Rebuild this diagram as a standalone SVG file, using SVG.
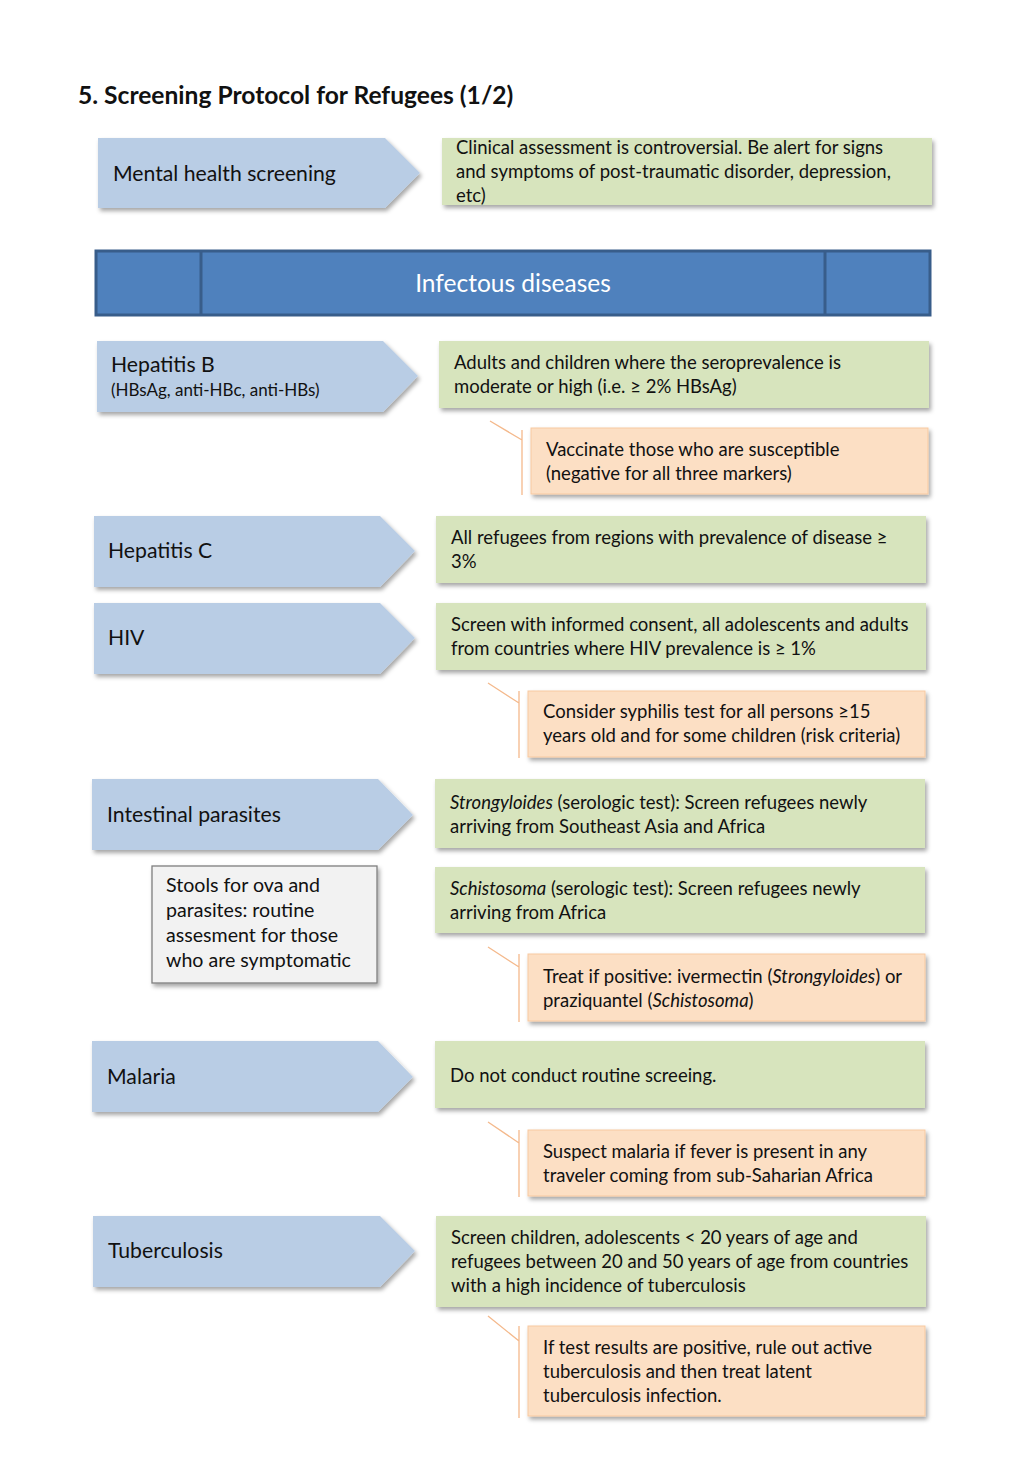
<svg xmlns="http://www.w3.org/2000/svg" width="1024" height="1479" viewBox="0 0 1024 1479">
<defs>
<filter id="sh" x="-5%" y="-10%" width="112%" height="130%">
<feDropShadow dx="2" dy="3" stdDeviation="2" flood-color="#000" flood-opacity="0.35"/>
</filter>
<style>
text{font-family:Lato,"Open Sans","Liberation Sans",sans-serif;fill:#111;}
.t{font-size:18.5px;}
.a{font-size:21.2px;}
.arrow{fill:#b9cde5;filter:url(#sh);}
.green{fill:#d7e4bd;filter:url(#sh);}
.orange{fill:#fcdfc4;stroke:#f8c9a0;stroke-width:1;filter:url(#sh);}
.grey{fill:#f2f2f2;stroke:#7f7f7f;stroke-width:1.3;filter:url(#sh);}
.call{fill:none;stroke:#f4b98c;stroke-width:1.3;}
</style>
</defs>
<rect width="1024" height="1479" fill="#fff"/>
<text x="78" y="104" style="font-size:24.6px;font-weight:bold">5. Screening Protocol for Refugees (1/2)</text>

<g id="mental">
<path class="arrow" d="M98 138H385L420 173L385 208H98Z"/>
<text class="a" x="113" y="181">Mental health screening</text>
</g>
<g id="mental-note">
<rect class="green" x="442" y="138" width="490" height="67"/>
<text class="t" x="456" y="154">Clinical assessment is controversial. Be alert for signs</text>
<text class="t" x="456" y="178">and symptoms of post-traumatic disorder, depression,</text>
<text class="t" x="456" y="202">etc)</text>
</g>

<g id="header">
<rect x="96" y="251" width="834" height="64" fill="#4f81bd" stroke="#385d8a" stroke-width="3"/>
<line x1="201" y1="251" x2="201" y2="315" stroke="#385d8a" stroke-width="3"/>
<line x1="825" y1="251" x2="825" y2="315" stroke="#385d8a" stroke-width="3"/>
<text x="513" y="292" text-anchor="middle" style="font-size:24.5px;fill:#fff">Infectous diseases</text>
</g>

<g id="hepb">
<path class="arrow" d="M97 341H383L418 376L383 412H97Z"/>
<text class="a" x="111" y="372">Hepatitis B</text>
<text x="111" y="396" style="font-size:17px">(HBsAg, anti-HBc, anti-HBs)</text>
</g>
<g id="hepb-note">
<rect class="green" x="439" y="341" width="490" height="67"/>
<text class="t" x="454" y="369">Adults and children where the seroprevalence is</text>
<text class="t" x="454" y="393">moderate or high (i.e. ≥ 2% HBsAg)</text>
</g>
<g id="hepb-vacc">
<rect class="orange" x="531" y="428" width="397" height="66"/>
<text class="t" x="546" y="456">Vaccinate those who are susceptible</text>
<text class="t" x="546" y="480">(negative for all three markers)</text>
</g>

<g id="hepc">
<path class="arrow" d="M94 516H380L415 551L380 587H94Z"/>
<text class="a" x="108" y="558">Hepatitis C</text>
</g>
<g id="hepc-note">
<rect class="green" x="436" y="516" width="490" height="67"/>
<text class="t" x="451" y="544">All refugees from regions with prevalence of disease ≥</text>
<text class="t" x="451" y="568">3%</text>
</g>

<g id="hiv">
<path class="arrow" d="M94 603H380L415 638L380 674H94Z"/>
<text class="a" x="108" y="645">HIV</text>
</g>
<g id="hiv-note">
<rect class="green" x="436" y="603" width="490" height="67"/>
<text class="t" x="451" y="631">Screen with informed consent, all adolescents and adults</text>
<text class="t" x="451" y="655">from countries where HIV prevalence is ≥ 1%</text>
</g>
<g id="hiv-syph">
<rect class="orange" x="528" y="691" width="397" height="66"/>
<text class="t" x="543" y="718">Consider syphilis test for all persons ≥15</text>
<text class="t" x="543" y="742">years old and for some children (risk criteria)</text>
</g>

<g id="parasites">
<path class="arrow" d="M92 779H378L413 815L378 850H92Z"/>
<text class="a" x="107" y="822">Intestinal parasites</text>
</g>
<g id="stools">
<rect class="grey" x="152" y="866" width="225" height="117"/>
<text x="166" y="892" style="font-size:19.6px">Stools for ova and</text>
<text x="166" y="917" style="font-size:19.6px">parasites: routine</text>
<text x="166" y="942" style="font-size:19.6px">assesment for those</text>
<text x="166" y="967" style="font-size:19.6px">who are symptomatic</text>
</g>
<g id="strong">
<rect class="green" x="435" y="779" width="490" height="69"/>
<text class="t" x="450" y="809"><tspan font-style="italic">Strongyloides</tspan> (serologic test): Screen refugees newly</text>
<text class="t" x="450" y="833">arriving from Southeast Asia and Africa</text>
</g>
<g id="schisto">
<rect class="green" x="435" y="867" width="490" height="66"/>
<text class="t" x="450" y="895"><tspan font-style="italic">Schistosoma</tspan> (serologic test): Screen refugees newly</text>
<text class="t" x="450" y="919">arriving from Africa</text>
</g>
<g id="treat">
<rect class="orange" x="528" y="954" width="397" height="67"/>
<text class="t" x="543" y="983">Treat if positive: ivermectin (<tspan font-style="italic">Strongyloides</tspan>) or</text>
<text class="t" x="543" y="1007">praziquantel (<tspan font-style="italic">Schistosoma</tspan>)</text>
</g>

<g id="malaria">
<path class="arrow" d="M92 1041H378L413 1077L378 1112H92Z"/>
<text class="a" x="107" y="1084">Malaria</text>
</g>
<g id="malaria-note">
<rect class="green" x="435" y="1041" width="490" height="67"/>
<text class="t" x="450" y="1082">Do not conduct routine screeing.</text>
</g>
<g id="malaria-susp">
<rect class="orange" x="528" y="1130" width="397" height="66"/>
<text class="t" x="543" y="1158">Suspect malaria if fever is present in any</text>
<text class="t" x="543" y="1182">traveler coming from sub-Saharian Africa</text>
</g>

<g id="tb">
<path class="arrow" d="M93 1216H380L415 1251L380 1287H93Z"/>
<text class="a" x="108" y="1258">Tuberculosis</text>
</g>
<g id="tb-note">
<rect class="green" x="436" y="1216" width="490" height="91"/>
<text class="t" x="451" y="1244">Screen children, adolescents &lt; 20 years of age and</text>
<text class="t" x="451" y="1268">refugees between 20 and 50 years of age from countries</text>
<text class="t" x="451" y="1292">with a high incidence of tuberculosis</text>
</g>
<g id="tb-pos">
<rect class="orange" x="528" y="1326" width="397" height="90"/>
<text class="t" x="543" y="1354">If test results are positive, rule out active</text>
<text class="t" x="543" y="1378">tuberculosis and then treat latent</text>
<text class="t" x="543" y="1402">tuberculosis infection.</text>
</g>

<g id="connectors">
<path class="call" d="M490 421L522 440M522 430V495"/>
<path class="call" d="M488 683L519 703M519 691V758"/>
<path class="call" d="M488 947L519 967M519 954V1022"/>
<path class="call" d="M488 1122L519 1143M519 1130V1197"/>
<path class="call" d="M488 1316L519 1341M519 1326V1418"/>
</g>
</svg>
